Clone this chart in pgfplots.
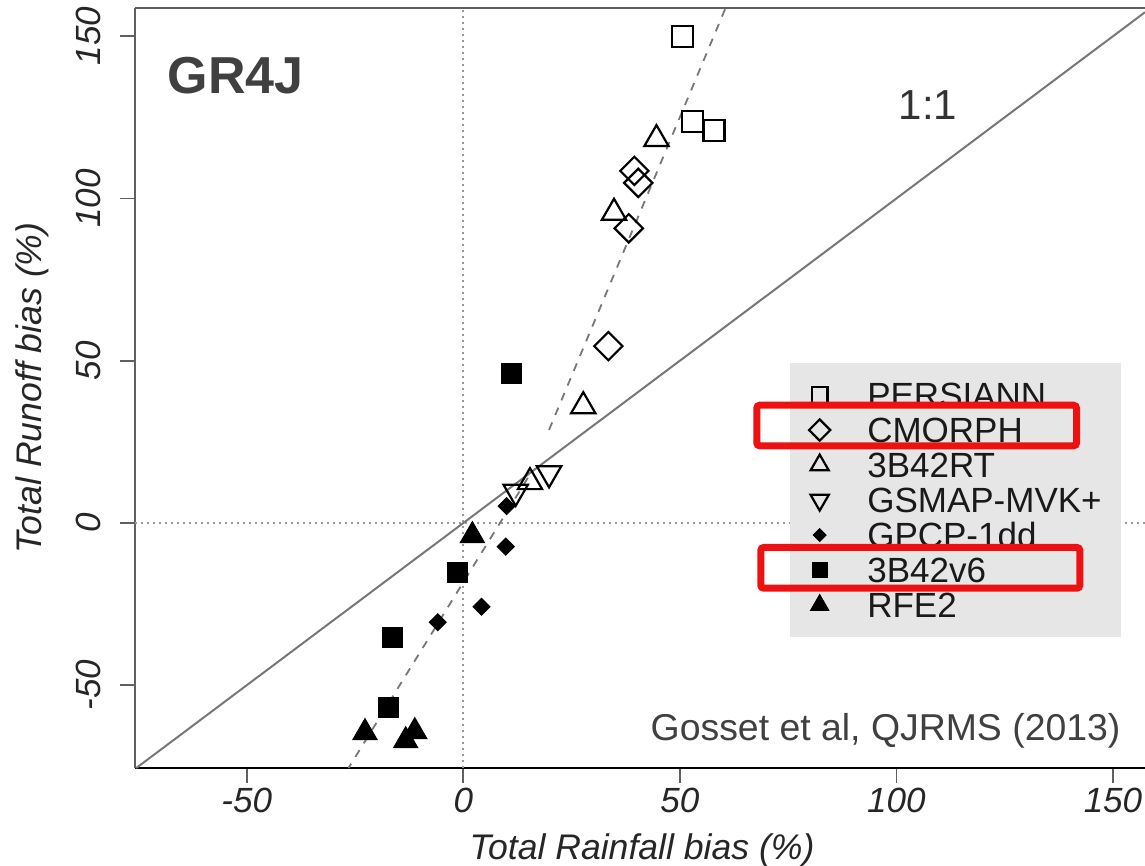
\documentclass[border=0pt]{standalone}
\usepackage{fontspec}
\setmainfont{Liberation Sans}
\usepackage{pgfplots}
\pgfplotsset{compat=1.18}
\definecolor{legbg}{HTML}{E6E6E6}
\definecolor{redbox}{HTML}{EE1111}
\definecolor{txtgray}{HTML}{404040}
\definecolor{linegray}{HTML}{777777}
\definecolor{dotgray}{HTML}{999999}
\definecolor{axgray}{HTML}{606060}
\begin{document}
\begin{tikzpicture}
\begin{axis}[
  name=ax,
  scale only axis,
  width=505pt, height=380pt,
  xmin=-75.8, xmax=157.4, ymin=-75.5, ymax=158.7,
  clip=false,
  axis x line*=bottom, axis y line*=left,
  x axis line style={-, line width=1.1pt, color=black},
  y axis line style={-, line width=1.1pt, color=axgray},
  xtick={-50,0,50,100,150}, xticklabels={-50,0,50,100,150},
  ytick={-50,0,50,100,150}, yticklabels={-50,0,50,100,150},
  tick align=outside, major tick length=7.5pt,
  tick style={line width=0.9pt, color=axgray},
  ticklabel style={font=\fontsize{17.5}{20}\selectfont\itshape, text=black!85, inner sep=0pt},
  xticklabel style={anchor=center},
  yticklabel style={rotate=90, anchor=center},
  xticklabel shift=8.5pt,
  yticklabel shift=16pt,
  xlabel={Total Rainfall bias (\%)},
  ylabel={Total Runoff bias (\%)},
  label style={font=\fontsize{17.8}{20}\selectfont\itshape, text=black!85, inner sep=0pt},
  xlabel style={at={(axis description cs:0.502,-0.1079)}, anchor=center},
  ylabel style={at={(axis description cs:-0.102,0.5)}, anchor=center, rotate=0},
  legend style={at={(rel axis cs:0.6478,0.5333)}, anchor=north west, fill=legbg, draw=none,
    inner xsep=9.7pt, inner ysep=7.25pt, row sep=0pt, column sep=18.5pt,
    font=\fontsize{17.5}{19}\selectfont,
    nodes={text width=117.3pt, align=left, inner xsep=0pt, inner ysep=1pt, text height=14pt, text depth=1.5pt, text=black!90}},
  legend cell align=left,
  legend image code/.code={\draw[#1, every mark/.append style={scale=0.75}] plot coordinates {(0pt,0pt)};},
]
% reference lines
\addplot[dotgray, line width=1pt, dash pattern=on 1pt off 2pt, forget plot] coordinates {(0,-75.5) (0,158.7)};
\addplot[dotgray, line width=1pt, dash pattern=on 1pt off 2pt, forget plot] coordinates {(-75.8,0) (157.4,0)};
\addplot[linegray, line width=1pt, forget plot] coordinates {(-75.5,-75.5) (157.4,157.4)};
\addplot[linegray, line width=0.9pt, dash pattern=on 4pt off 4pt, forget plot] coordinates {(19.8,28.7) (60.55,158.7)};
\addplot[linegray, line width=0.9pt, dash pattern=on 4pt off 4pt, forget plot] coordinates {(14.9,13.9) (-26.5,-75.5)};
% series
\addplot[only marks, black, line width=1.1pt, mark=square, mark size=5.25pt] coordinates {(50.6,149.8) (53.0,123.6) (57.9,120.9)};
\addlegendentry{PERSIANN}
\addplot[only marks, black, line width=1.1pt, mark=square, mark size=5pt, mark options={rotate=45}] coordinates {(39.5,108.5) (40.4,104.8) (38.2,90.8) (33.5,54.5)};
\addlegendentry{CMORPH}
\addplot[only marks, black, line width=1.1pt, mark=triangle, mark size=7pt] coordinates {(44.6,118.3) (34.8,95.6) (27.7,36.0) (15.4,12.6)};
\addlegendentry{3B42RT}
\addplot[only marks, black, line width=1.1pt, mark=triangle, mark size=7pt, mark options={rotate=180}] coordinates {(12.1,9.6) (19.8,15.3)};
\addlegendentry{GSMAP-MVK+}
\addplot[only marks, black, line width=0.5pt, mark=square*, mark size=3pt, mark options={rotate=45, fill=black}] coordinates {(10.0,5.2) (9.8,-7.3) (4.2,-25.8) (-5.9,-30.6)};
\addlegendentry{GPCP-1dd}
\addplot[only marks, black, line width=0.5pt, mark=square*, mark size=5pt, mark options={fill=black}] coordinates {(11.2,46.1) (-1.4,-15.3) (-16.3,-35.3) (-17.3,-56.8)};
\addlegendentry{3B42v6}
\addplot[only marks, black, line width=0.5pt, mark=triangle*, mark size=7pt, mark options={fill=black}] coordinates {(2.1,-3.9) (-22.7,-64.6) (-11.2,-64.3) (-13.3,-67.1)};
\addlegendentry{RFE2}
% top frame line
\draw[axgray, line width=1.1pt] (rel axis cs:0,1) -- (rel axis cs:1,1);
% annotations
\node[anchor=base, font=\fontsize{26}{30}\selectfont\bfseries, text=txtgray, inner sep=0pt] at (axis cs:-52.6,132.3) {GR4J};
\node[anchor=base, font=\fontsize{21}{24}\selectfont, text=black!80, inner sep=0pt] at (axis cs:107.3,124.2) {1:1};
\node[anchor=base, font=\fontsize{18.7}{22}\selectfont, text=txtgray, inner sep=0pt] at (axis cs:97.5,-66.9) {Gosset et al, QJRMS (2013)};
\coordinate (r1a) at (axis cs:67.76,36.29);
\coordinate (r1b) at (axis cs:141.59,23.78);
\coordinate (r2a) at (axis cs:68.68,-7.55);
\coordinate (r2b) at (axis cs:142.36,-20.09);
\coordinate (c00) at (rel axis cs:0,0);
\coordinate (c11) at (rel axis cs:1,1);
\end{axis}
\draw[redbox, line width=3.5pt, rounded corners=1.5pt] (r1a) rectangle (r1b);
\draw[redbox, line width=3.5pt, rounded corners=1.5pt] (r2a) rectangle (r2b);
\pgfresetboundingbox
\path[use as bounding box] ([shift={(-67.5pt,-49pt)}]c00) rectangle ([shift={(0pt,4pt)}]c11);
\end{tikzpicture}
\end{document}
